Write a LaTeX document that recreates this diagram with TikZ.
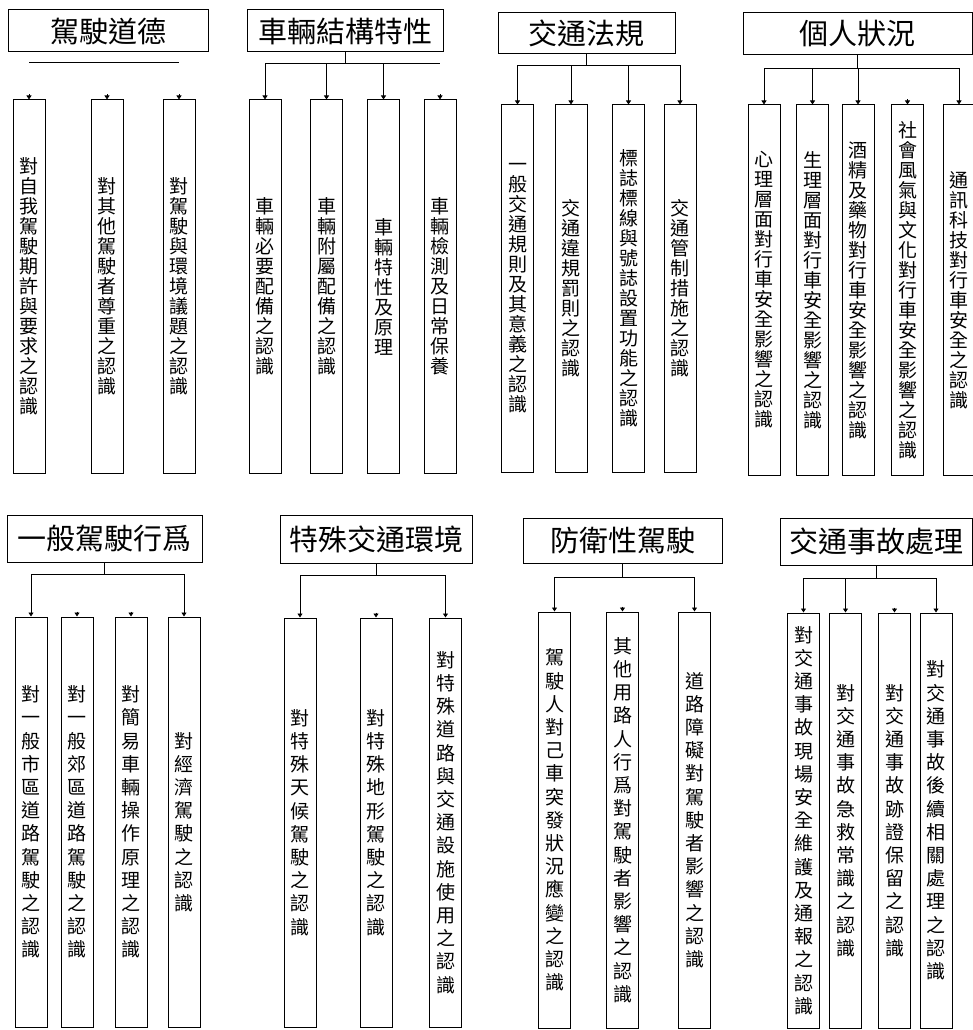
\documentclass[tikz,border=0pt]{standalone}
\usepackage{fontspec}
\setmainfont{Noto Sans CJK TC}
\usetikzlibrary{arrows.meta}

% one character per line
\makeatletter
\newcommand\vtext[1]{\vbox{\@tfor\vch:=#1\do{\hbox to 1em{\hss\vch\hss}}}}
\makeatother

\begin{document}
\begin{tikzpicture}[
    x=1pt, y=-1pt,
    >={Triangle[length=4pt, width=5pt]},
    head/.style={draw, line width=1pt, inner sep=0pt, font=\fontsize{29}{30}\selectfont},
    item/.style={draw, line width=1pt, inner sep=0pt, minimum width=32, minimum height=#1, font=\fontsize{19}{20}\selectfont},
    itemlow/.style={item=#1, font=\fontsize{19}{23.2}\selectfont},
    link/.style={line width=0.8pt},
]
    \useasboundingbox (0,0) rectangle (973,1030);

    % 駕駛道德
    \node[head, minimum width=200, minimum height=42] (h1) at (108,31) {駕駛道德};
    \node[item=373] (a1) at (29,286.5) {\vtext{對自我駕駛期許與要求之認識}};
    \node[item=373] (a2) at (107,286.5) {\vtext{對其他駕駛者尊重之認識}};
    \node[item=373] (a3) at (179,286.5) {\vtext{對駕駛與環境議題之認識}};
    \coordinate (j1) at (108,62);
    \draw[link] (j1 -| a1.north) -- (j1 -| a3.north);
    \draw[link, ->] ([yshift=5pt]a1.north) -- (a1.north);
    \draw[link, ->] ([yshift=5pt]a2.north) -- (a2.north);
    \draw[link, ->] ([yshift=5pt]a3.north) -- (a3.north);

    % 車輛結構特性
    \node[head, minimum width=196, minimum height=42] (h2) at (345,31) {車輛結構特性};
    \node[item=373] (b1) at (265,286.5) {\vtext{車輛必要配備之認識}};
    \node[item=373] (b2) at (326.5,286.5) {\vtext{車輛附屬配備之認識}};
    \node[item=373] (b3) at (383.5,286.5) {\vtext{車輛特性及原理}};
    \node[item=373] (b4) at (440,286.5) {\vtext{車輛檢測及日常保養}};
    \coordinate (j2) at ([yshift=-11pt]h2.south);
    \draw[link] (h2.south) -- (j2);
    \draw[link, ->] (j2) -| (b1.north);
    \draw[link, ->] (j2) -| (b2.north);
    \draw[link, ->] (j2) -| (b3.north);
    \draw[link] (j2) -- (j2 -| b4.north);
    \draw[link, ->] ([yshift=5pt]b4.north) -- (b4.north);

    % 交通法規
    \node[head, minimum width=177, minimum height=41] (h3) at (586.5,33.5) {交通法規};
    \node[item=367] (c1) at (517.5,288.5) {\vtext{一般交通規則及其意義之認識}};
    \node[item=367] (c2) at (571,288.5) {\vtext{交通違規罰則之認識}};
    \node[item=367] (c3) at (628.5,288.5) {\vtext{標誌標線與號誌設置功能之認識}};
    \node[item=367] (c4) at (680,288.5) {\vtext{交通管制措施之認識}};
    \coordinate (j3) at ([yshift=-11pt]h3.south);
    \draw[link] (h3.south) -- (j3);
    \draw[link, ->] (j3) -| (c1.north);
    \draw[link, ->] (j3) -| (c2.north);
    \draw[link, ->] (j3) -| (c3.north);
    \draw[link, ->] (j3) -| (c4.north);

    % 個人狀況
    \node[head, minimum width=229, minimum height=42] (h4) at (857.5,34) {個人狀況};
    \node[item=370] (d1) at (764,290) {\vtext{心理層面對行車安全影響之認識}};
    \node[item=370] (d2) at (812.5,290) {\vtext{生理層面對行車安全影響之認識}};
    \node[item=370] (d3) at (858,290) {\vtext{酒精及藥物對行車安全影響之認識}};
    \node[item=370] (d4) at (907.5,290) {\vtext{社會風氣與文化對行車安全影響之認識}};
    \node[item=370] (d5) at (959,290) {\vtext{通訊科技對行車安全之認識}};
    \coordinate (j4) at ([yshift=-13pt]h4.south);
    \draw[link] (h4.south) -- (j4);
    \draw[link, ->] (j4) -| (d1.north);
    \draw[link, ->] (j4) -| (d2.north);
    \draw[link, ->] (j4) -| (d3.north);
    \draw[link, ->] (j4) -| (d5.north);
    \draw[link, ->] ([yshift=5pt]d4.north) -- (d4.north);

    % 一般駕駛行爲
    \node[head, minimum width=195, minimum height=47] (h5) at (104.5,538.5) {一般駕駛行爲};
    \node[itemlow=410] (e1) at (31,822) {\vtext{對一般市區道路駕駛之認識}};
    \node[itemlow=410] (e2) at (77,822) {\vtext{對一般郊區道路駕駛之認識}};
    \node[itemlow=410] (e3) at (131,822) {\vtext{對簡易車輛操作原理之認識}};
    \node[itemlow=410] (e4) at (184,822) {\vtext{對經濟駕駛之認識}};
    \coordinate (j5) at ([yshift=-12pt]h5.south);
    \draw[link] (h5.south) -- (j5);
    \draw[link, ->] (j5) -| (e1.north);
    \draw[link, ->] (j5) -| (e4.north);
    \draw[link, ->] ([yshift=5pt]e2.north) -- (e2.north);
    \draw[link, ->] ([yshift=5pt]e3.north) -- (e3.north);

    % 特殊交通環境
    \node[head, minimum width=192, minimum height=48] (h6) at (376,539) {特殊交通環境};
    \node[itemlow=409] (f1) at (300,822.5) {\vtext{對特殊天候駕駛之認識}};
    \node[itemlow=409] (f2) at (376,822.5) {\vtext{對特殊地形駕駛之認識}};
    \node[itemlow=409] (f3) at (445.5,822.5) {\vtext{對特殊道路與交通設施使用之認識}};
    \coordinate (j6) at ([yshift=-12pt]h6.south);
    \draw[link] (h6.south) -- (j6);
    \draw[link, ->] (j6) -| (f1.north);
    \draw[link, ->] (j6) -| (f3.north);
    \draw[link, ->] ([yshift=5pt]f2.north) -- (f2.north);

    % 防衛性駕駛
    \node[head, minimum width=199, minimum height=45] (h7) at (622.5,540.5) {防衛性駕駛};
    \node[itemlow=416] (g1) at (554.5,820) {\vtext{駕駛人對己車突發狀況應變之認識}};
    \node[itemlow=416] (g2) at (622.5,820) {\vtext{其他用路人行爲對駕駛者影響之認識}};
    \node[itemlow=416] (g3) at (694.5,820) {\vtext{道路障礙對駕駛者影響之認識}};
    \coordinate (j7) at ([yshift=-14pt]h7.south);
    \draw[link] (h7.south) -- (j7);
    \draw[link, ->] (j7) -| (g1.north);
    \draw[link, ->] (j7) -| (g3.north);
    \draw[link, ->] ([yshift=5pt]g2.north) -- (g2.north);

    % 交通事故處理
    \node[head, minimum width=192, minimum height=47] (h8) at (876,541.5) {交通事故處理};
    \node[itemlow=415] (k1) at (803.5,820.5) {\vtext{對交通事故現場安全維護及通報之認識}};
    \node[itemlow=415] (k2) at (845.5,820.5) {\vtext{對交通事故急救常識之認識}};
    \node[itemlow=415] (k3) at (894.5,820.5) {\vtext{對交通事故跡證保留之認識}};
    \node[itemlow=415] (k4) at (936,820.5) {\vtext{對交通事故後續相關處理之認識}};
    \coordinate (j8) at ([yshift=-13pt]h8.south);
    \draw[link] (h8.south) -- (j8);
    \draw[link, ->] (j8) -| (k1.north);
    \draw[link, ->] (j8) -| (k2.north);
    \draw[link, ->] (j8) -| (k4.north);
    \draw[link, ->] ([yshift=5pt]k3.north) -- (k3.north);

\end{tikzpicture}
\end{document}
